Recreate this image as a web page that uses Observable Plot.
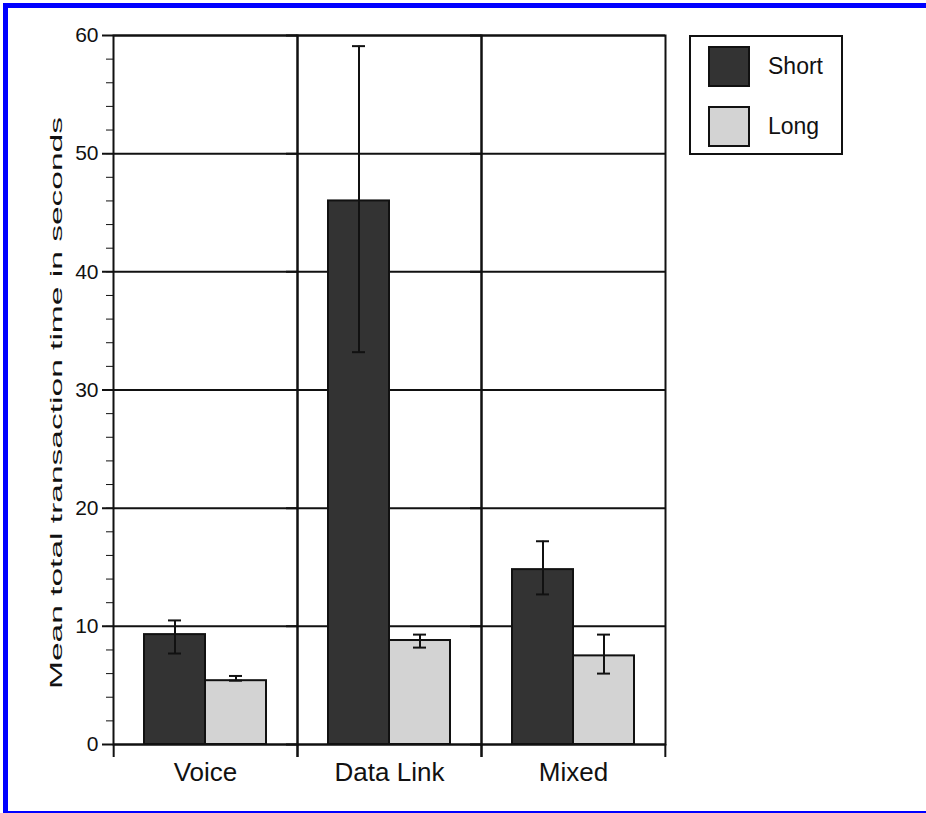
<!DOCTYPE html>
<html>
<head>
<meta charset="utf-8">
<script src="https://cdn.jsdelivr.net/npm/d3@7"></script>
<script src="https://cdn.jsdelivr.net/npm/@observablehq/plot@0.6"></script>
<style>
  html, body { margin: 0; padding: 0; background: #fff; }
  #wrap { position: relative; width: 926px; height: 813px; overflow: hidden; background: #fff;
          font-family: "Liberation Sans", Arial, Helvetica, sans-serif; color: #111; }
  #chart { position: absolute; left: 0; top: 0; }
  .bd { position: absolute; background: #0000ff; }
  #legend { position: absolute; left: 689px; top: 35px; width: 154px; height: 120px;
            box-sizing: border-box; border: 2px solid #111; background: #fff; }
  .item { position: absolute; left: 17px; display: flex; align-items: center; }
  .sw { width: 42px; height: 41px; box-sizing: border-box; border: 2px solid #111; }
  .lab { margin-left: 18px; font-size: 23px; }
</style>
</head>
<body>
<div id="wrap">
  <div id="chart"></div>
  <div id="legend"></div>
  <div class="bd" style="left:3px;top:3px;width:923px;height:5px;"></div>
  <div class="bd" style="left:3px;top:3px;width:5px;height:810px;"></div>
  <div class="bd" style="left:3px;top:811px;width:923px;height:2px;"></div>
</div>
<script>
// ---- data ----
const categories = ["Voice", "Data Link", "Mixed"];
const series = ["Short", "Long"];
const seriesColors = ["#333333", "#d3d3d3"];
const shortMean = [9.3, 46.0, 14.8];
const shortLow  = [7.7, 33.2, 12.7];
const shortHigh = [10.5, 59.1, 17.2];
const longMean  = [5.4, 8.8, 7.5];
const longLow   = [5.4, 8.2, 6.0];
const longHigh  = [5.8, 9.3, 9.3];
const yMajorTicks = [0, 10, 20, 30, 40, 50, 60];
const yMinorTicks = [0, 2, 4, 6, 8, 10, 12, 14, 16, 18, 20, 22, 24, 26, 28, 30,
                     32, 34, 36, 38, 40, 42, 44, 46, 48, 50, 52, 54, 56, 58, 60];
const yLabel = "Mean total transaction time in seconds";

// ---- table ----
const rows = [];
categories.forEach((c, i) => {
  rows.push({category: c, series: series[0], value: shortMean[i], low: shortLow[i], high: shortHigh[i]});
  rows.push({category: c, series: series[1], value: longMean[i], low: longLow[i], high: longHigh[i]});
});

// ---- layout ----
const width = 926, height = 813;
const ml = 113, mr = 261, mt = 35, mb = 69;
const po = 0.5;
const step = (width - ml - mr) / categories.length / (series.length + 2 * po);
const edge = (0.5 + po) * step;
const ink = "#111";

const chart = Plot.plot({
  width, height,
  marginLeft: ml, marginRight: mr, marginTop: mt, marginBottom: mb,
  style: {fontFamily: "'Liberation Sans', Arial, Helvetica, sans-serif", fontSize: "21px",
          color: ink, background: "transparent", overflow: "visible"},
  facet: {data: rows, x: "category"},
  fx: {domain: categories, padding: 0, label: null, tickSize: 0, tickPadding: 18},
  x: {domain: series, paddingInner: 0, paddingOuter: po, axis: null},
  y: {domain: [0, 60], ticks: yMinorTicks, tickSize: 7, tickPadding: 8,
      tickFormat: d => yMajorTicks.includes(d) ? String(d) : "",
      label: yLabel, labelAnchor: "center", labelOffset: 63},
  color: {domain: series, range: seriesColors},
  marks: [
    Plot.ruleY(yMajorTicks, {stroke: ink, strokeWidth: 2, insetLeft: -11}),
    Plot.barY(rows, {x: "series", y: "value", fill: "series", stroke: ink, strokeWidth: 2}),
    Plot.ruleX(rows, {x: "series", y1: "low", y2: "high", stroke: ink, strokeWidth: 2}),
    Plot.tickY(rows, {x: "series", y: "low", stroke: ink, strokeWidth: 2, insetLeft: 24, insetRight: 24}),
    Plot.tickY(rows, {x: "series", y: "high", stroke: ink, strokeWidth: 2, insetLeft: 24, insetRight: 24}),
    Plot.frame({stroke: ink, strokeWidth: 2}),
    Plot.ruleX([series[0]], {y1: 0, y2: -1.1, stroke: ink, strokeWidth: 2, dx: -edge}),
    Plot.ruleX([series[series.length - 1]], {y1: 0, y2: -1.1, stroke: ink, strokeWidth: 2, dx: edge})
  ]
});

// style axis texts
d3.select(chart).selectAll("text").each(function() {
  const t = d3.select(this);
  const s = this.textContent;
  if (categories.includes(s)) t.attr("font-size", "26px");
  if (s.startsWith(yLabel)) {
    t.text(yLabel)
     .attr("font-size", "16px")
     .attr("dx", -13)
     .attr("textLength", 572)
     .attr("lengthAdjust", "spacingAndGlyphs");
  }
});
document.getElementById("chart").appendChild(chart);

// legend
const legend = document.getElementById("legend");
series.forEach((s, i) => {
  const item = document.createElement("div");
  item.className = "item";
  item.style.top = (9 + i * 60) + "px";
  const sw = document.createElement("div");
  sw.className = "sw";
  sw.style.background = seriesColors[i];
  const lab = document.createElement("div");
  lab.className = "lab";
  lab.textContent = s;
  item.appendChild(sw); item.appendChild(lab);
  legend.appendChild(item);
});
</script>
</body>
</html>
